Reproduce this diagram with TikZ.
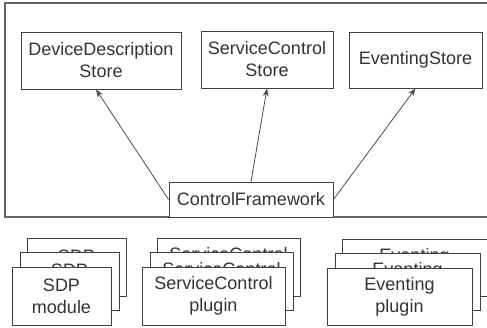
\documentclass[tikz,border=0pt]{standalone}
\usepackage{fontspec}
\setmainfont{Liberation Sans}
\usetikzlibrary{arrows.meta}
\tikzset{
  box/.style={draw=black!75, line width=0.9pt, fill=white, inner sep=0pt, align=center,
    text=black!80, font=\fontsize{18}{22}\selectfont},
  link/.style={draw=black!70, line width=0.8pt, -{Stealth[length=8pt,width=6pt]}}
}

\begin{document}
\begin{tikzpicture}[x=1pt,y=-1pt]
			%%%%% frame %%%%%
			\clip (0,0) rectangle (487,327);
			\useasboundingbox (0,0) rectangle (487,327);
			\draw[black!60, line width=1.4pt] (5,3) rectangle (495,217);
			
			%%%%% stores %%%%%
			\node[box, minimum width=160, minimum height=57] (dds) at (101,60.5) {DeviceDescription\\Store};
			\node[box, minimum width=132, minimum height=57] (scs) at (267,59.5) {ServiceControl\\Store};
			\node[box, minimum width=133, minimum height=56] (es) at (415.5,60) {EventingStore};
			
			\node[box, minimum width=164, minimum height=35] (cf) at (251,199.5) {ControlFramework};
			
			\draw[link] (cf.west) -- ([xshift=-5]dds.south);
			\draw[link] (cf.north) -- (scs.south);
			\draw[link] (cf.east) -- (es.south);
			
			%%%%% plugin stacks, back to front %%%%%
			\foreach \k/\dx/\dy in {2/15/-29, 1/8/-14.5, 0/0/0} {
				\node[box, minimum width=99, minimum height=58] (sdp\k) at (61.5+\dx,296+\dy) {SDP\\module};
				\node[box, minimum width=143, minimum height=58] (scp\k) at (213.5+\dx,296+\dy) {ServiceControl\\plugin};
				\node[box, minimum width=145, minimum height=57] (evp\k) at (399.5+\dx,296.5+\dy) {Eventing\\plugin};
			}
		\end{tikzpicture}
\end{document}
